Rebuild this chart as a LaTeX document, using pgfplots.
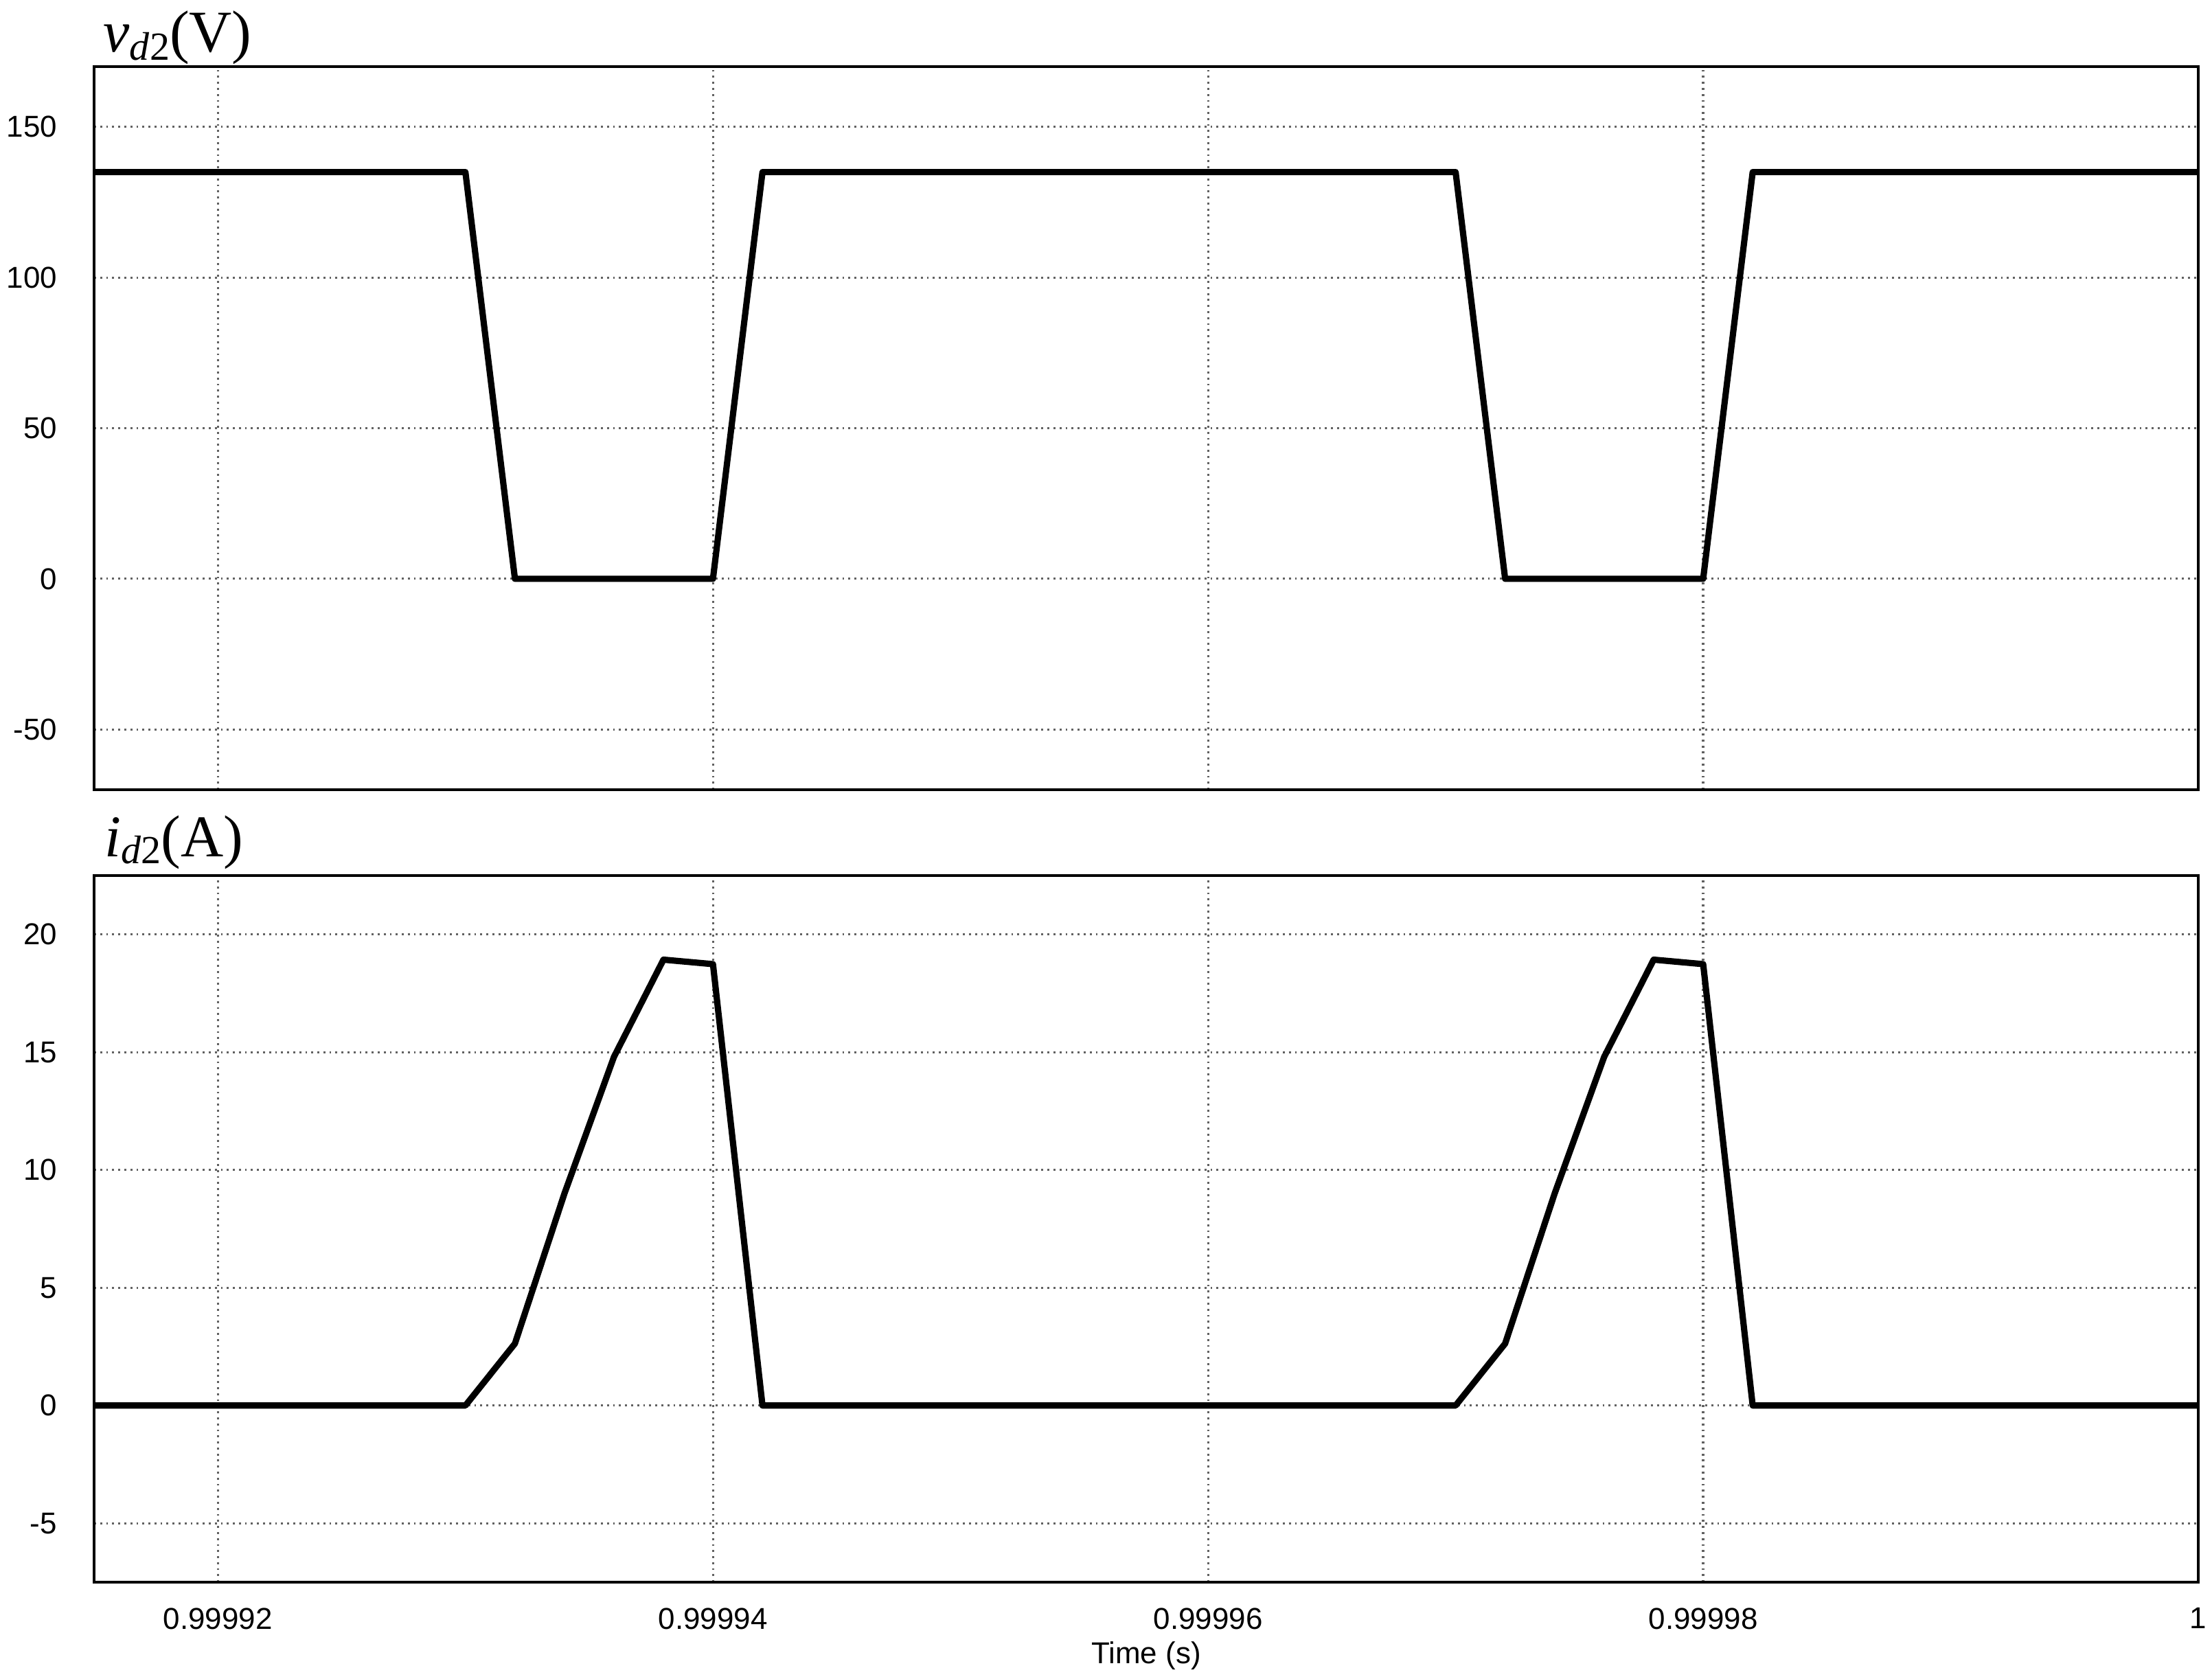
\documentclass[border=0pt]{standalone}
\usepackage{fontspec}
\setmainfont{Liberation Sans}
\newfontfamily\timesfont{Liberation Serif}
\usepackage{pgfplots}
\pgfplotsset{compat=1.18}

% x is in microseconds after t = 0.9999 s (keeps the FPU away from 0.9999x)
\pgfplotsset{psim/.style={
  scale only axis, width=30.64cm,
  xmin=15, xmax=100, xtick={20,40,60,80,100},
  grid=major,
  grid style={color=black!62, line width=0.9pt, dash pattern=on 0.8pt off 1.7pt},
  every axis/.append style={line width=1.2pt},
  axis line style={line width=1.2pt},
  major tick length=0pt,
  tick label style={font=\fontsize{12.5}{15}\selectfont},
  /pgf/number format/assume math mode=true,
  yticklabel style={inner sep=0pt, xshift=-0.52cm},
  xticklabel style={inner sep=0pt, yshift=-0.355cm},
}}
\tikzset{wave/.style={black, no markers, line width=2.6pt, line join=round}}

\begin{document}
\begin{tikzpicture}
\begin{axis}[psim, at={(1.37cm,-0.97cm)}, anchor=north west, height=10.53cm,
  ymin=-70, ymax=170, ytick={-50,0,50,100,150}, xticklabels={}]
\addplot[wave] coordinates {(15,135) (30,135) (32,0) (40,0) (42,135) (70,135) (72,0) (80,0) (82,135) (100,135)};
\end{axis}
\begin{axis}[psim, at={(1.37cm,-12.75cm)}, anchor=north west, height=10.29cm,
  ymin=-7.5, ymax=22.5, ytick={-5,0,5,10,15,20},
  xticklabels={0.99992,0.99994,0.99996,0.99998,1},
  xlabel={Time (s)},
  xlabel style={at={(axis description cs:0.5,0)}, anchor=base, yshift=-1.18cm, inner sep=0pt, font=\fontsize{12.5}{15}\selectfont}]
\addplot[wave] coordinates {(15,0) (30,0) (32,2.63) (34,9.0) (36,14.8) (38,18.93) (40,18.74) (42,0)
  (70,0) (72,2.63) (74,9.0) (76,14.8) (78,18.93) (80,18.74) (82,0) (100,0)};
\end{axis}
\node[anchor=base west, inner sep=0pt, font=\timesfont\fontsize{24.5}{28}\selectfont] at (1.50cm,-0.75cm)
  {\textit{v}\raisebox{-0.12cm}{\fontsize{16.5}{18}\selectfont\textit{d}2}(V)};
\node[anchor=base west, inner sep=0pt, font=\timesfont\fontsize{24.5}{28}\selectfont] at (1.52cm,-12.47cm)
  {\textit{i}\raisebox{-0.10cm}{\fontsize{16.5}{18}\selectfont\textit{d}2}(A)};
\pgfresetboundingbox
\path (0,0) rectangle (32.21cm,-24.44cm);
\end{tikzpicture}
\end{document}
